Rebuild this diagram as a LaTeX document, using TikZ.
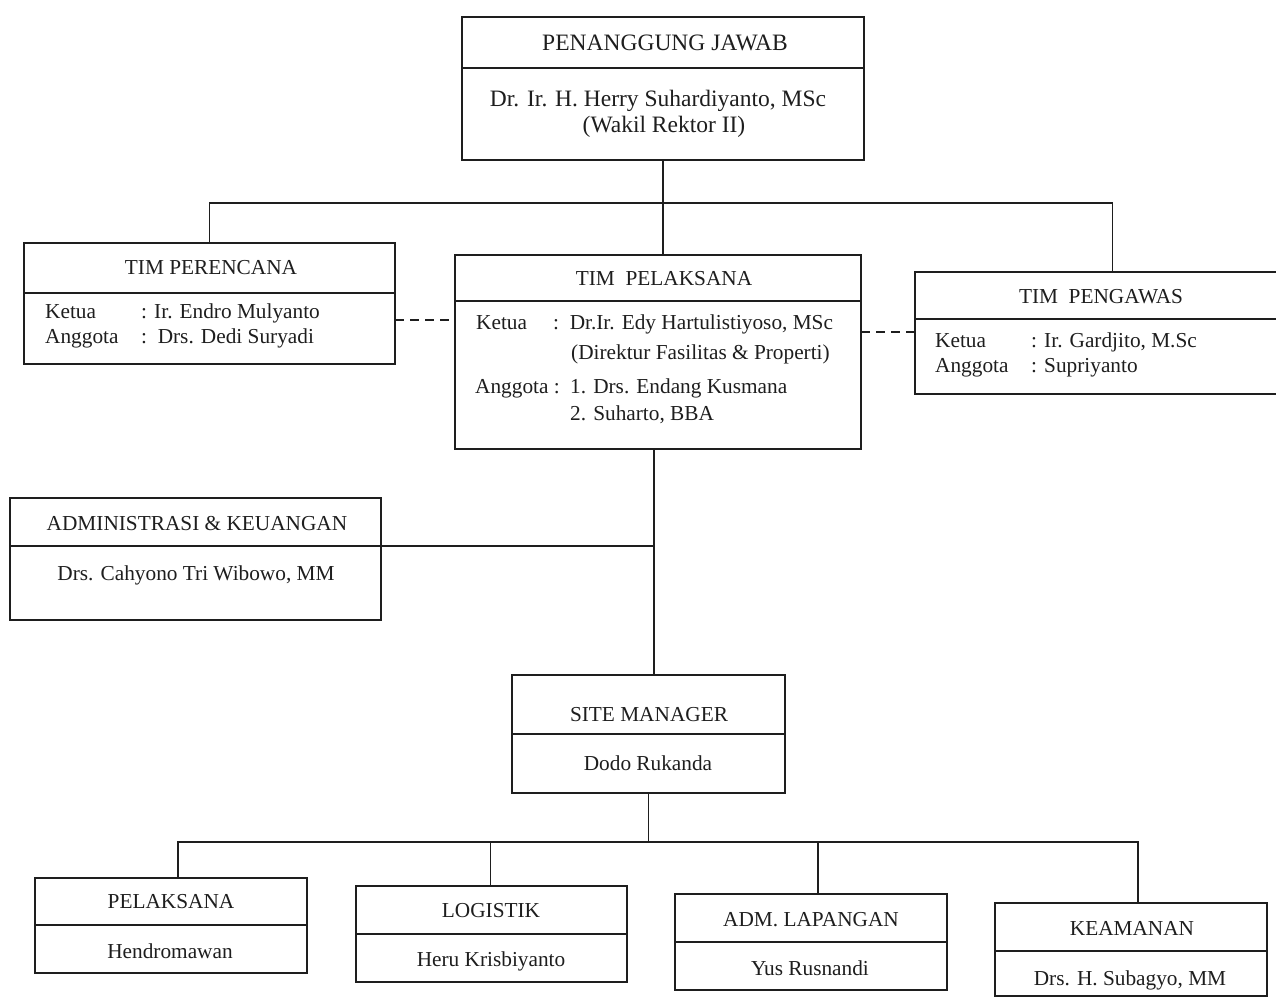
\documentclass[tikz,border=0pt]{standalone}
\usepackage{fontspec}
\setmainfont{Liberation Serif}
\definecolor{ink}{HTML}{1E1E1E}
\begin{document}
\begin{tikzpicture}[x=1pt,y=-1pt,
  box/.style={draw=ink, line width=1.8pt, rectangle, anchor=north west, inner sep=0pt, outer sep=0pt},
  lnk/.style={draw=ink, line width=1.8pt},
  dsh/.style={draw=ink, line width=1.8pt, dash pattern=on 9pt off 6pt},
  ttl/.style={anchor=base, inner sep=0pt, text=ink, font=\fontsize{21.3}{26}\selectfont},
  txt/.style={anchor=base west, inner sep=0pt, text=ink, font=\fontsize{21.3}{26}\selectfont},
  big/.style={font=\fontsize{23.5}{28}\selectfont},
]
\useasboundingbox (0,0) rectangle (1276,999);
\clip (0,0) rectangle (1276,999);
\fill[white] (0,0) rectangle (1276,999);

% ---------- Penanggung Jawab ----------
\node[box, minimum width=402pt, minimum height=143pt] (pj) at (462,17) {};
\draw[lnk] (462,68) -- (864,68);
\node[ttl, big] (pjt) at (665,50) {PENANGGUNG JAWAB};
\node[ttl, big] (pjn1) at (658,106) {Dr. Ir. H. Herry Suhardiyanto, MSc};
\node[ttl, big] (pjn2) at (664,132) {(Wakil Rektor II)};

% ---------- Tim Perencana ----------
\node[box, minimum width=371pt, minimum height=121pt] (tp) at (24,243) {};
\draw[lnk] (24,293) -- (395,293);
\node[ttl] (tpt) at (211,274) {TIM PERENCANA};
\node[txt] (tpk) at (45,318) {Ketua};
\node[txt] (tpk2) at (141,318) {: Ir. Endro Mulyanto};
\node[txt] (tpa) at (45,343) {Anggota};
\node[txt] (tpa2) at (141,343) {:\ \ Drs. Dedi Suryadi};

% ---------- Tim Pelaksana ----------
\node[box, minimum width=406pt, minimum height=194pt] (tl) at (455,255) {};
\draw[lnk] (455,301) -- (861,301);
\node[ttl] (tlt) at (664,285) {TIM\ \ PELAKSANA};
\node[txt] (tlk) at (476,329) {Ketua};
\node[txt] (tlk2) at (553,329) {:\ \ Dr.Ir. Edy Hartulistiyoso, MSc};
\node[txt] (tlk3) at (571,359) {(Direktur Fasilitas \& Properti)};
\node[txt] (tla) at (475,393) {Anggota :};
\node[txt] (tla2) at (570,393) {1. Drs. Endang Kusmana};
\node[txt] (tla3) at (570,420) {2. Suharto, BBA};

% ---------- Tim Pengawas ----------
\node[box, minimum width=395pt, minimum height=122pt] (tw) at (915,272) {};
\draw[lnk] (915,319) -- (1310,319);
\node[ttl] (twt) at (1101,303) {TIM\ \ PENGAWAS};
\node[txt] (twk) at (935,347) {Ketua};
\node[txt] (twk2) at (1031,347) {: Ir. Gardjito, M.Sc};
\node[txt] (twa) at (935,372) {Anggota};
\node[txt] (twa2) at (1031,372) {: Supriyanto};

% ---------- Administrasi & Keuangan ----------
\node[box, minimum width=371pt, minimum height=122pt] (adm) at (10,498) {};
\node[ttl] (admt) at (197,530) {ADMINISTRASI \& KEUANGAN};
\node[ttl] (admn) at (196,580) {Drs. Cahyono Tri Wibowo, MM};

% ---------- Site Manager ----------
\node[box, minimum width=273pt, minimum height=118pt] (sm) at (512,675) {};
\draw[lnk] (512,734) -- (785,734);
\node[ttl] (smt) at (649,721) {SITE MANAGER};
\node[ttl] (smn) at (648,770) {Dodo Rukanda};

% ---------- Bottom row ----------
\node[box, minimum width=272pt, minimum height=95pt] (b1) at (35,878) {};
\draw[lnk] (35,925) -- (307,925);
\node[ttl] (b1t) at (171,908) {PELAKSANA};
\node[ttl] (b1n) at (170,958) {Hendromawan};

\node[box, minimum width=271pt, minimum height=96pt] (b2) at (356,886) {};
\draw[lnk] (356,934) -- (627,934);
\node[ttl] (b2t) at (491,917) {LOGISTIK};
\node[ttl] (b2n) at (491,966) {Heru Krisbiyanto};

\node[box, minimum width=272pt, minimum height=96pt] (b3) at (675,894) {};
\draw[lnk] (675,942) -- (947,942);
\node[ttl] (b3t) at (811,926) {ADM. LAPANGAN};
\node[ttl] (b3n) at (810,975) {Yus Rusnandi};

\node[box, minimum width=272pt, minimum height=93pt] (b4) at (995,903) {};
\draw[lnk] (995,951) -- (1267,951);
\node[ttl] (b4t) at (1132,935) {KEAMANAN};
\node[ttl] (b4n) at (1130,985) {Drs. H. Subagyo, MM};

% ---------- Connectors ----------
\draw[lnk] (pj.south) -- ++(0,43) coordinate (bus1);
\draw[lnk] (tp.north) |- (bus1);
\draw[lnk] (tw.north) |- (bus1);
\draw[lnk] (bus1) -- (bus1 |- tl.north);

\draw[dsh] (tp.east |- 0,320) -- (tl.west |- 0,320);
\draw[dsh] (tl.east |- 0,332) -- (tw.west |- 0,332);

\coordinate (trunk) at (654,449);
\draw[lnk] (trunk) -- (trunk |- sm.north);
\coordinate (admjoin) at (trunk |- 0,546);
\draw[lnk] (adm.west |- admjoin) -- (admjoin);

\draw[lnk] (sm.south) -- ++(0,49) coordinate (bus2);
\draw[lnk] ([xshift=7pt]b1.north) |- (bus2);
\draw[lnk] ([xshift=7pt]b4.north) |- (bus2);
\draw[lnk] ([xshift=-1pt]b2.north) -- ([xshift=-1pt]b2.north |- bus2);
\draw[lnk] ([xshift=7pt]b3.north) -- ([xshift=7pt]b3.north |- bus2);
\end{tikzpicture}
\end{document}
